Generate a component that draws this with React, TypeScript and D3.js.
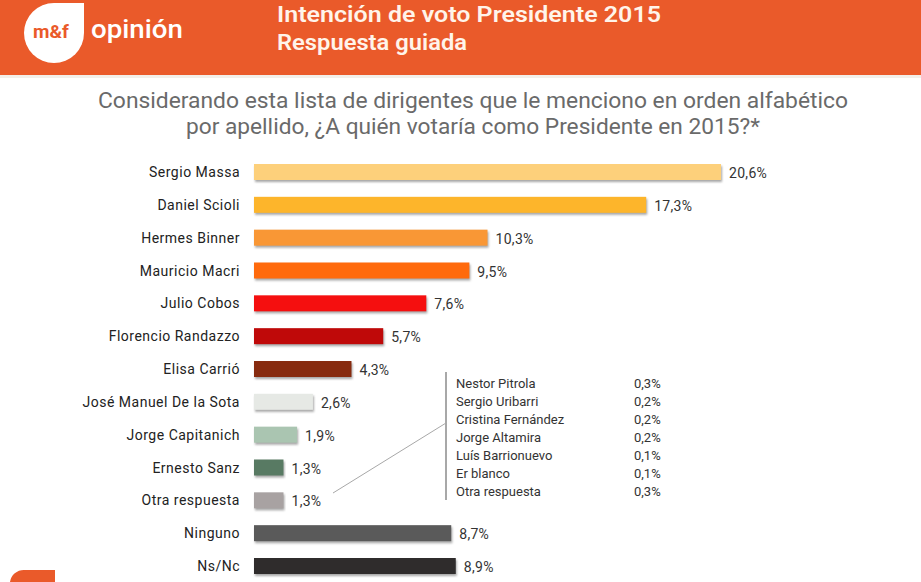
import * as d3 from "d3";

const candidates = [
  "Sergio Massa",
  "Daniel Scioli",
  "Hermes Binner",
  "Mauricio Macri",
  "Julio Cobos",
  "Florencio Randazzo",
  "Elisa Carrió",
  "José Manuel De la Sota",
  "Jorge Capitanich",
  "Ernesto Sanz",
  "Otra respuesta",
  "Ninguno",
  "Ns/Nc",
];
const shares = [20.6, 17.3, 10.3, 9.5, 7.6, 5.7, 4.3, 2.6, 1.9, 1.3, 1.3, 8.7, 8.9];
const barColors = [
  "#FDD07B", "#FDB52B", "#F99735", "#FF6A0C", "#F50F0F", "#BF0909", "#872B0F",
  "#E6E9E5", "#AAC5B1", "#587A63", "#A8A2A2", "#5A5A5A", "#2F2C2C",
];

const otherNames = [
  "Nestor Pitrola",
  "Sergio Uribarri",
  "Cristina Fernández",
  "Jorge Altamira",
  "Luís Barrionuevo",
  "Er blanco",
  "Otra respuesta",
];
const otherShares = [0.3, 0.2, 0.2, 0.2, 0.1, 0.1, 0.3];

const W = 921;
const H = 582;
const font = "Roboto, 'DejaVu Sans', sans-serif";
const orange = "#EA5A2A";
const pct = (v: number) => d3.format(".1f")(v).replace(".", ",") + "%";

export default function App() {
  const x = d3.scaleLinear().domain([0, 20.6]).range([254, 721]);
  const y = d3.scalePoint<string>().domain(candidates).range([172, 566]);
  const barH = 16;

  const ly = d3.scalePoint<string>().domain(otherNames.map((n, i) => `${i}`)).range([383, 491]);

  return (
    <svg width={W} height={H} style={{ position: "absolute", left: 0, top: 0, background: "#fff" }}>
      <defs>
        <filter id="sh" x="-5%" y="-50%" width="110%" height="200%">
          <feGaussianBlur stdDeviation="0.8" />
        </filter>
      </defs>

      {/* header band */}
      <rect x={0} y={0} width={W} height={75} fill={orange} />
      <rect x={0} y={75} width={W} height={3} fill="#f3efe9" />
      <path d="M54,3 H84 V33 A30,30 0 0 1 54,63 A30,30 0 0 1 24,33 A30,30 0 0 1 54,3 Z" fill="#fff" />
      <text x={51} y={38} textAnchor="middle" fontFamily={font} fontWeight={700} fontSize={19} fill={orange}>
        m&amp;f
      </text>
      <text x={91} y={38} fontFamily={font} fontWeight={500} fontSize={26} fill="#fff" textLength={92} lengthAdjust="spacingAndGlyphs">
        opinión
      </text>
      <text x={277} y={22} fontFamily={font} fontWeight={600} fontSize={22} fill="#FFF4EA" textLength={384} lengthAdjust="spacingAndGlyphs">
        Intención de voto Presidente 2015
      </text>
      <text x={277} y={50} fontFamily={font} fontWeight={600} fontSize={22} fill="#FFF4EA" textLength={190} lengthAdjust="spacingAndGlyphs">
        Respuesta guiada
      </text>

      {/* question */}
      <text x={473} y={108} textAnchor="middle" fontFamily={font} fontSize={22} fill="#6a6a6a" textLength={750} lengthAdjust="spacingAndGlyphs">
        Considerando esta lista de dirigentes que le menciono en orden alfabético
      </text>
      <text x={473} y={134} textAnchor="middle" fontFamily={font} fontSize={22} fill="#6a6a6a" textLength={574} lengthAdjust="spacingAndGlyphs">
        por apellido, ¿A quién votaría como Presidente en 2015?*
      </text>

      {/* bars */}
      {candidates.map((c, i) => {
        const cy = y(c)!;
        const w = x(shares[i]) - x(0);
        return (
          <g key={c}>
            <rect x={x(0) + 1} y={cy - barH / 2 + 2} width={w} height={barH} fill="#8a8a8a" opacity={0.75} filter="url(#sh)" />
            <rect x={x(0)} y={cy - barH / 2} width={w} height={barH} fill={barColors[i]} />
            <text x={240} y={cy + 5} textAnchor="end" fontFamily={font} fontSize={14} letterSpacing={0.5} fill="#222">
              {c}
            </text>
            <text x={x(shares[i]) + 8} y={cy + 6} fontFamily={font} fontSize={14} letterSpacing={0.3} fill="#333">
              {pct(shares[i])}
            </text>
          </g>
        );
      })}

      {/* breakdown of "Otra respuesta" */}
      <line x1={333} y1={493} x2={446} y2={423} stroke="#a8a8a8" strokeWidth={1} />
      <line x1={446} y1={372} x2={446} y2={500} stroke="#a8a8a8" strokeWidth={2} />
      {otherNames.map((n, i) => (
        <g key={n + i}>
          <text x={456} y={ly(`${i}`)! + 5} fontFamily={font} fontSize={13} fill="#333">
            {n}
          </text>
          <text x={634} y={ly(`${i}`)! + 5} fontFamily={font} fontSize={13} fill="#333">
            {pct(otherShares[i])}
          </text>
        </g>
      ))}

      {/* corner mark */}
      <path d="M10,582 A14,14 0 0 1 24,570 H55 V582 Z" fill={orange} />
    </svg>
  );
}
